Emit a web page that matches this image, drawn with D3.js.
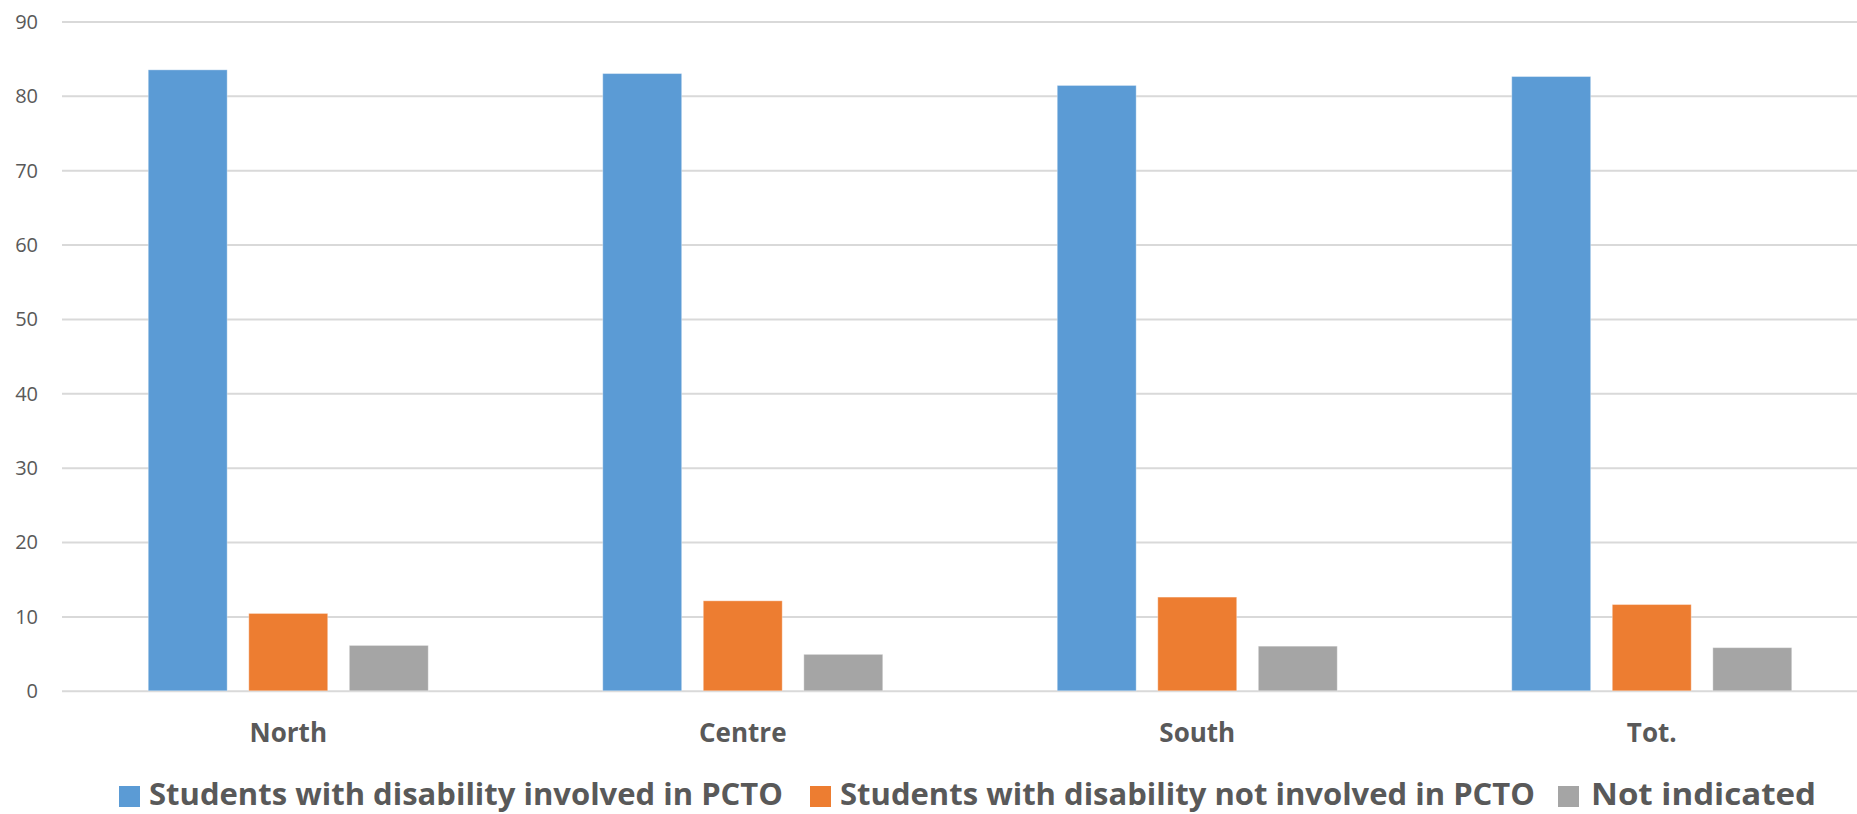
<!DOCTYPE html>
<html>
<head>
<meta charset="utf-8">
<script src="https://cdn.jsdelivr.net/npm/d3@7"></script>
<style>
  html, body { margin: 0; padding: 0; background: #ffffff; overflow: hidden; }
  svg { display: block; }
  text { font-family: "Open Sans", "Noto Sans", sans-serif; fill: #595959; }
</style>
</head>
<body>
<svg id="chart" width="1857" height="814"></svg>
<script>
// Regions and the share (%) of students with disability in each PCTO group
const categories = ["North", "Centre", "South", "Tot."];
const seriesNames = [
  "Students with disability involved in PCTO",
  "Students with disability not involved in PCTO",
  "Not indicated"
];
const involved    = [83.5, 83.0, 81.4, 82.6];
const notInvolved = [10.4, 12.1, 12.6, 11.6];
const notIndicated = [6.1, 4.9, 6.0, 5.8];
const yTicks = [0, 10, 20, 30, 40, 50, 60, 70, 80, 90];
const colors = ["#5B9BD5", "#ED7D31", "#A5A5A5"];

const seriesValues = [involved, notInvolved, notIndicated];
const rows = categories.map((c, i) => ({
  category: c,
  values: seriesValues.map((vals, s) => ({ series: s, value: vals[i] }))
}));

const svg = d3.select("#chart");

// Plot area (extends slightly past the right edge of the page)
const plotLeft = 61, plotRight = 1879, plotTop = 21.5, plotBottom = 690.8;

const x = d3.scaleBand().domain(categories).range([plotLeft, plotRight]).paddingInner(0).paddingOuter(0);
const groupWidth = 280;
const xs = d3.scaleBand().domain(d3.range(seriesNames.length)).range([0, groupWidth]).paddingInner(0.215);
const y = d3.scaleLinear().domain([0, 90]).range([plotBottom, plotTop]);

// Horizontal gridlines
const yAxis = d3.axisLeft(y).tickValues(yTicks).tickSize(-(1857 - 62)).tickPadding(24).tickFormat(d3.format("d"));
const gy = svg.append("g").attr("transform", `translate(62,0)`).call(yAxis);
gy.select(".domain").remove();
gy.selectAll(".tick line").attr("stroke", "#D9D9D9").attr("stroke-width", 2);
gy.selectAll(".tick text").style("font-size", "20px").attr("fill", "#595959").attr("dy", "0.34em");

// Bars
const groups = svg.append("g").selectAll("g")
  .data(rows).join("g")
  .attr("transform", d => `translate(${x(d.category) + (x.bandwidth() - groupWidth) / 2},0)`);

groups.selectAll("rect")
  .data(d => d.values).join("rect")
  .attr("x", d => xs(d.series))
  .attr("width", xs.bandwidth())
  .attr("y", d => y(d.value))
  .attr("height", d => y(0) - y(d.value))
  .attr("fill", d => colors[d.series])
  .attr("stroke", "rgba(255,255,255,0.35)")
  .attr("stroke-width", 1);

// Category labels
const xAxis = d3.axisBottom(x).tickSize(0).tickPadding(0);
const gx = svg.append("g").attr("transform", `translate(0,${plotBottom})`).call(xAxis);
gx.select(".domain").remove();
gx.selectAll(".tick text")
  .attr("y", 0).attr("dy", 0)
  .attr("transform", "translate(0,51)")
  .style("font-size", "26px").style("font-weight", "700").attr("fill", "#595959");

// Legend
const legendItems = [
  { sq: 119, tx: 149, w: 634 },
  { sq: 810, tx: 840, w: 695 },
  { sq: 1558, tx: 1591, w: 225 }
];
const legend = svg.append("g").selectAll("g")
  .data(seriesNames).join("g");
legend.append("rect")
  .attr("x", (d, i) => legendItems[i].sq)
  .attr("y", 786)
  .attr("width", 21).attr("height", 21)
  .attr("fill", (d, i) => colors[i]);
legend.append("text")
  .attr("x", (d, i) => legendItems[i].tx)
  .attr("y", 805)
  .attr("textLength", (d, i) => legendItems[i].w)
  .attr("lengthAdjust", "spacingAndGlyphs")
  .style("font-size", "30px").style("font-weight", "700")
  .text(d => d);
</script>
</body>
</html>
